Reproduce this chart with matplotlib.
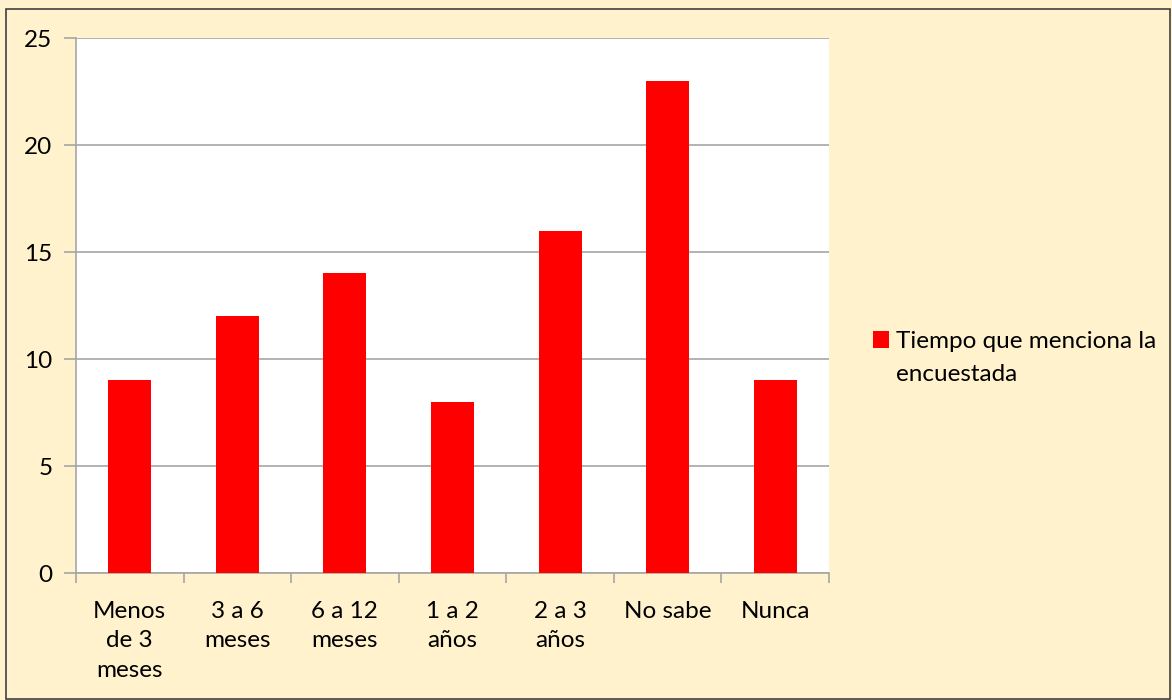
import matplotlib
matplotlib.use('Agg')
import matplotlib.pyplot as plt
from matplotlib.patches import Rectangle

plt.rcParams['font.family'] = ['Lato', 'DejaVu Sans']

categorias = ['Menos\nde 3\nmeses', '3 a 6\nmeses', '6 a 12\nmeses', '1 a 2\naños',
              '2 a 3\naños', 'No sabe', 'Nunca']
valores = [9, 12, 14, 8, 16, 23, 9]
serie = ['Tiempo que menciona la', 'encuestada']

fondo = '#FFF2CC'
gris = '#A6A6A6'
fs = 17.5

fig = plt.figure(figsize=(11.72, 7.0), dpi=100, facecolor=fondo)
ax = fig.add_axes([0.0648, 0.1814, 0.6425, 0.7643])
ax.set_facecolor('white')

x = range(len(valores))
ax.bar(x, valores, width=0.4, color='#FF0000', label=serie[0], zorder=3)

ax.set_xlim(-0.5, len(valores) - 0.5)
ax.set_ylim(0, 25)
ax.set_yticks(range(0, 26, 5))
ax.yaxis.grid(True, color=gris, linewidth=1.2, zorder=0)

ax.set_xticks(x)
ax.set_xticklabels(categorias, fontsize=fs, linespacing=1.5, va='top')
ax.set_xticks([i - 0.5 for i in range(len(valores) + 1)], minor=True)
ax.tick_params(axis='x', which='major', length=0, pad=20)
ax.tick_params(axis='x', which='minor', length=7, color=gris, width=1.2)
ax.tick_params(axis='y', length=9, color=gris, width=1.2, labelsize=fs, pad=8)

for s in ['top', 'right']:
    ax.spines[s].set_visible(False)
for s in ['left', 'bottom']:
    ax.spines[s].set_color(gris)
    ax.spines[s].set_linewidth(1.2)

# leyenda: cuadro rojo con la primera línea, la segunda debajo
leg = fig.legend(loc='center left', bbox_to_anchor=(0.726, 0.512), frameon=False,
                 fontsize=fs, handlelength=0.65, handleheight=0.65, handletextpad=0.3)
fig.canvas.draw()
x0 = leg.get_texts()[0].get_window_extent().x0 / fig.bbox.width
fig.text(x0, 0.465, serie[1], fontsize=fs, va='center', ha='left')

# marco exterior
fig.patches.append(Rectangle((0.005, 0.002), 0.993, 0.985, transform=fig.transFigure,
                             fill=False, edgecolor='#404040', linewidth=1.2))

fig.savefig('out.png', dpi=100, facecolor=fondo)
